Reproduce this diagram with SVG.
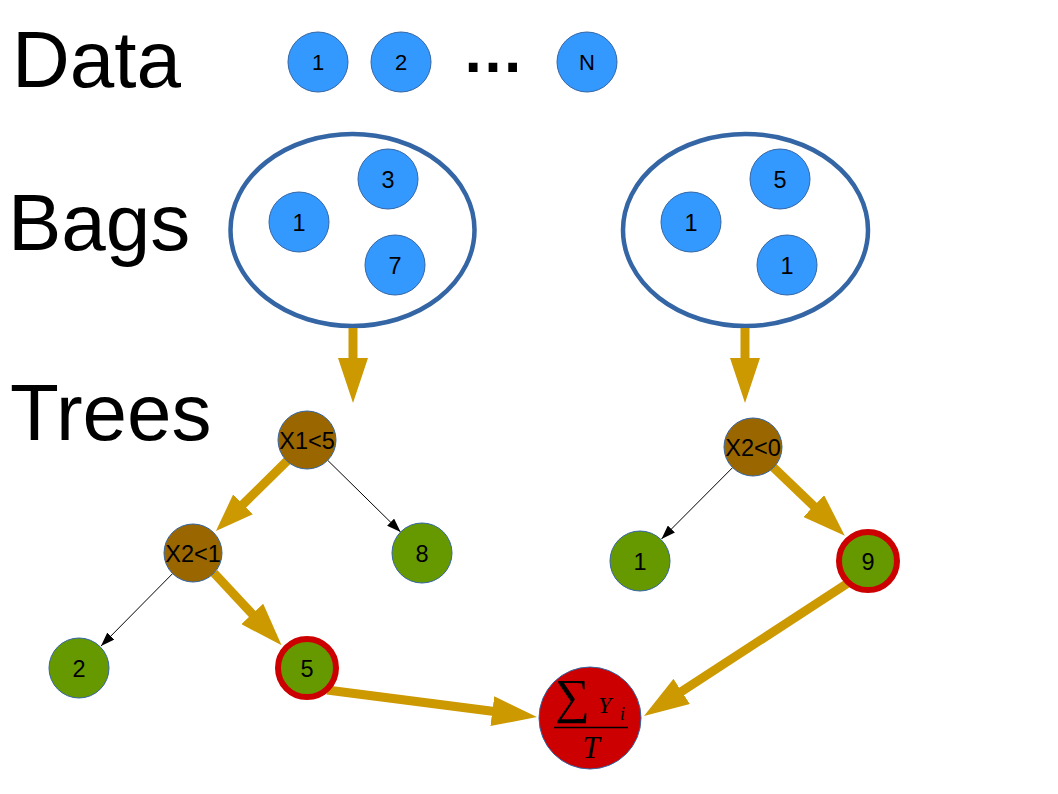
<svg xmlns="http://www.w3.org/2000/svg" width="1058" height="794" viewBox="0 0 1058 794">
<style>
.lbl{font-family:"Liberation Sans",Arial,sans-serif;font-size:80px;fill:#000}
.t{font-family:"Liberation Sans",Arial,sans-serif;font-size:23.5px;fill:#000;text-anchor:middle}
.td{font-family:"Liberation Sans",Arial,sans-serif;font-size:22px;fill:#000;text-anchor:middle}
.blue{fill:#3399ff;stroke:#3465a4;stroke-width:1}
.brown{fill:#996600;stroke:#3465a4;stroke-width:1}
.green{fill:#669900;stroke:#3465a4;stroke-width:1}
.chosen{fill:#669900;stroke:#cc0000;stroke-width:6}
.bag{fill:none;stroke:#3465a4;stroke-width:4.5}
.thick{stroke:#cc9900;stroke-width:9;fill:none}
.thin{stroke:#000;stroke-width:1;fill:none;marker-end:url(#mThin)}
.math{font-family:"Liberation Serif","Times New Roman",serif;font-style:italic;fill:#000}
</style>
<defs>
<marker id="mBig" markerUnits="userSpaceOnUse" viewBox="0 0 45 30" refX="2" refY="15" markerWidth="45" markerHeight="30" orient="auto">
<path d="M0,0 L45,15 L0,30 z" fill="#cc9900"/>
</marker>
<marker id="mMid" markerUnits="userSpaceOnUse" viewBox="0 0 43 30" refX="2" refY="15" markerWidth="43" markerHeight="30" orient="auto">
<path d="M0,0 L43,15 L0,30 z" fill="#cc9900"/>
</marker>
<marker id="mSmall" markerUnits="userSpaceOnUse" viewBox="0 0 38 28" refX="2" refY="14" markerWidth="38" markerHeight="28" orient="auto">
<path d="M0,0 L38,14 L0,28 z" fill="#cc9900"/>
</marker>
<marker id="mThin" markerUnits="userSpaceOnUse" viewBox="0 0 14 10" refX="14" refY="5" markerWidth="14" markerHeight="10" orient="auto">
<path d="M0,0 L14,5 L0,10 z" fill="#000"/>
</marker>
</defs>

<g id="labels">
<text class="lbl" x="12" y="87">Data</text>
<text class="lbl" x="8" y="250">Bags</text>
<text class="lbl" x="10" y="440">Trees</text>
</g>

<g id="data">
<g id="d1"><circle class="blue" cx="318" cy="62" r="30"/><text class="td" x="318" y="70">1</text></g>
<g id="d2"><circle class="blue" cx="401" cy="62" r="30"/><text class="td" x="401" y="70">2</text></g>
<text id="dots" x="493" y="72" font-family="Liberation Sans,Arial,sans-serif" font-weight="bold" font-size="62" text-anchor="middle" fill="#000">…</text>
<g id="dN"><circle class="blue" cx="587" cy="62" r="30"/><text class="td" x="587" y="70">N</text></g>
</g>

<g id="bag1">
<ellipse class="bag" cx="352.5" cy="230" rx="122" ry="96"/>
<g id="b1a"><circle class="blue" cx="299" cy="222" r="30"/><text class="t" x="299" y="230.5">1</text></g>
<g id="b1b"><circle class="blue" cx="388" cy="179" r="30"/><text class="t" x="388" y="187.5">3</text></g>
<g id="b1c"><circle class="blue" cx="395" cy="265" r="30"/><text class="t" x="395" y="273.5">7</text></g>
</g>

<g id="bag2">
<ellipse class="bag" cx="745.5" cy="230" rx="122.5" ry="96"/>
<g id="b2a"><circle class="blue" cx="691" cy="222" r="30"/><text class="t" x="691" y="230.5">1</text></g>
<g id="b2b"><circle class="blue" cx="780" cy="179" r="30"/><text class="t" x="780" y="187.5">5</text></g>
<g id="b2c"><circle class="blue" cx="787" cy="265" r="30"/><text class="t" x="787" y="273.5">1</text></g>
</g>

<g id="connectors">
<line class="thick" x1="353" y1="328" x2="353" y2="360" marker-end="url(#mBig)"/>
<line class="thick" x1="745" y1="328" x2="745" y2="360" marker-end="url(#mBig)"/>
<line class="thick" x1="289" y1="459" x2="241.6" y2="505.7" marker-end="url(#mSmall)"/>
<line class="thick" x1="214" y1="573" x2="253.6" y2="615.4" marker-end="url(#mMid)"/>
<line class="thick" x1="773" y1="467" x2="815.2" y2="507.4" marker-end="url(#mMid)"/>
<line class="thick" x1="327" y1="690" x2="494.3" y2="711.5" marker-end="url(#mBig)"/>
<line class="thick" x1="848" y1="583" x2="680" y2="692.5" marker-end="url(#mBig)"/>
<line class="thin" x1="327.7" y1="460.3" x2="400.6" y2="532"/>
<line class="thin" x1="172.6" y1="573.6" x2="101" y2="646"/>
<line class="thin" x1="732.6" y1="467.6" x2="661.5" y2="539"/>
</g>

<g id="tree1">
<g id="n_x1"><circle class="brown" cx="307" cy="440" r="29"/><text class="t" x="307" y="448.5">X1&lt;5</text></g>
<g id="n_x2"><circle class="brown" cx="193" cy="553" r="29"/><text class="t" x="193" y="561.5">X2&lt;1</text></g>
<g id="n_8"><circle class="green" cx="422" cy="553" r="30"/><text class="t" x="422" y="561.5">8</text></g>
<g id="n_2"><circle class="green" cx="79" cy="668" r="30"/><text class="t" x="79" y="676.5">2</text></g>
<g id="n_5"><circle class="chosen" cx="307" cy="668" r="29"/><text class="t" x="307" y="676.5">5</text></g>
</g>

<g id="tree2">
<g id="n_x3"><circle class="brown" cx="753" cy="447" r="29"/><text class="t" x="753" y="455.5">X2&lt;0</text></g>
<g id="n_1"><circle class="green" cx="640" cy="561" r="30"/><text class="t" x="640" y="569.5">1</text></g>
<g id="n_9"><circle class="chosen" cx="868" cy="561" r="29"/><text class="t" x="868" y="569.5">9</text></g>
</g>

<g id="n_sum">
<circle cx="590" cy="718" r="51" fill="#cc0000" stroke="#3465a4" stroke-width="1"/>
<text x="555" y="713" font-family="Liberation Serif,Times New Roman,serif" font-size="49" fill="#000">∑</text>
<text class="math" x="598" y="713" font-size="24">Y</text>
<text class="math" x="620" y="720" font-size="18">i</text>
<line x1="554" y1="727.5" x2="628" y2="727.5" stroke="#000" stroke-width="1.6"/>
<text class="math" x="591" y="758" font-size="31" text-anchor="middle">T</text>
</g>
</svg>
